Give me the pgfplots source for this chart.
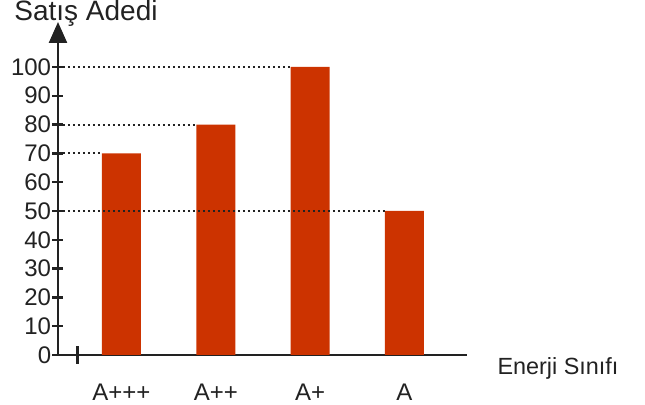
\documentclass[border=0pt]{standalone}
\usepackage{pgfplots}
\pgfplotsset{compat=1.18}
\usepackage{fontspec}
\setmainfont{Liberation Sans}
\usetikzlibrary{arrows.meta}
\definecolor{barc}{HTML}{CC3300}
\definecolor{axc}{HTML}{222222}
\begin{document}
\begin{tikzpicture}
\useasboundingbox (-29pt,-25pt) rectangle (293.5pt,177.5pt);
\begin{axis}[
  at={(0,0)}, anchor=south west,
  scale only axis,
  width=204.5pt, height=166.5pt,
  xmin=-0.673, xmax=3.663,
  ymin=0, ymax=115.6,
  clip=false,
  axis x line=bottom, axis y line=left,
  x axis line style={-, line width=1.2pt, color=axc},
  y axis line style={-{Triangle[width=9pt,length=10.5pt]}, line width=1.2pt, color=axc},
  xtick={0,1,2,3},
  xticklabels={A+++,A++,A+,A},
  x tick style={draw=none},
  xticklabel style={yshift=-8pt, font=\fontsize{12}{14}\selectfont, text=axc},
  extra x ticks={-0.461},
  extra x tick labels={},
  extra x tick style={x tick style={draw=axc, line width=1.5pt}, major tick length=9pt, tick align=center},
  ytick={0,10,...,100},
  y tick style={draw=axc, line width=1.2pt},
  major tick length=5.5pt,
  tick align=center,
  yticklabel style={font=\fontsize{12}{14}\selectfont, text=axc, inner xsep=0.5pt},
  /pgf/number format/assume math mode=true,
  ylabel={Satış Adedi},
  ylabel style={rotate=-90, at={(axis description cs:0.0685,1.027)}, anchor=center, font=\fontsize{14}{16}\selectfont, text=axc},
  xlabel={Enerji Sınıfı},
  xlabel style={at={(axis description cs:1.2225,-0.039)}, anchor=center, font=\fontsize{11.7}{14}\selectfont, text=axc},
]
\addplot[ybar, bar width=19.5pt, fill=barc, draw=none] coordinates {(0,70) (1,80) (2,100) (3,50)};
\addplot[axc, line width=1pt, dash pattern=on 1pt off 1.5pt] coordinates {(-0.673,100) (1.7933,100)};
\addplot[axc, line width=1pt, dash pattern=on 1pt off 1.5pt] coordinates {(-0.673,80) (0.7933,80)};
\addplot[axc, line width=1pt, dash pattern=on 1pt off 1.5pt] coordinates {(-0.673,70) (-0.2067,70)};
\addplot[axc, line width=1pt, dash pattern=on 1pt off 1.5pt] coordinates {(-0.673,50) (2.7933,50)};
\end{axis}
\end{tikzpicture}
\end{document}
